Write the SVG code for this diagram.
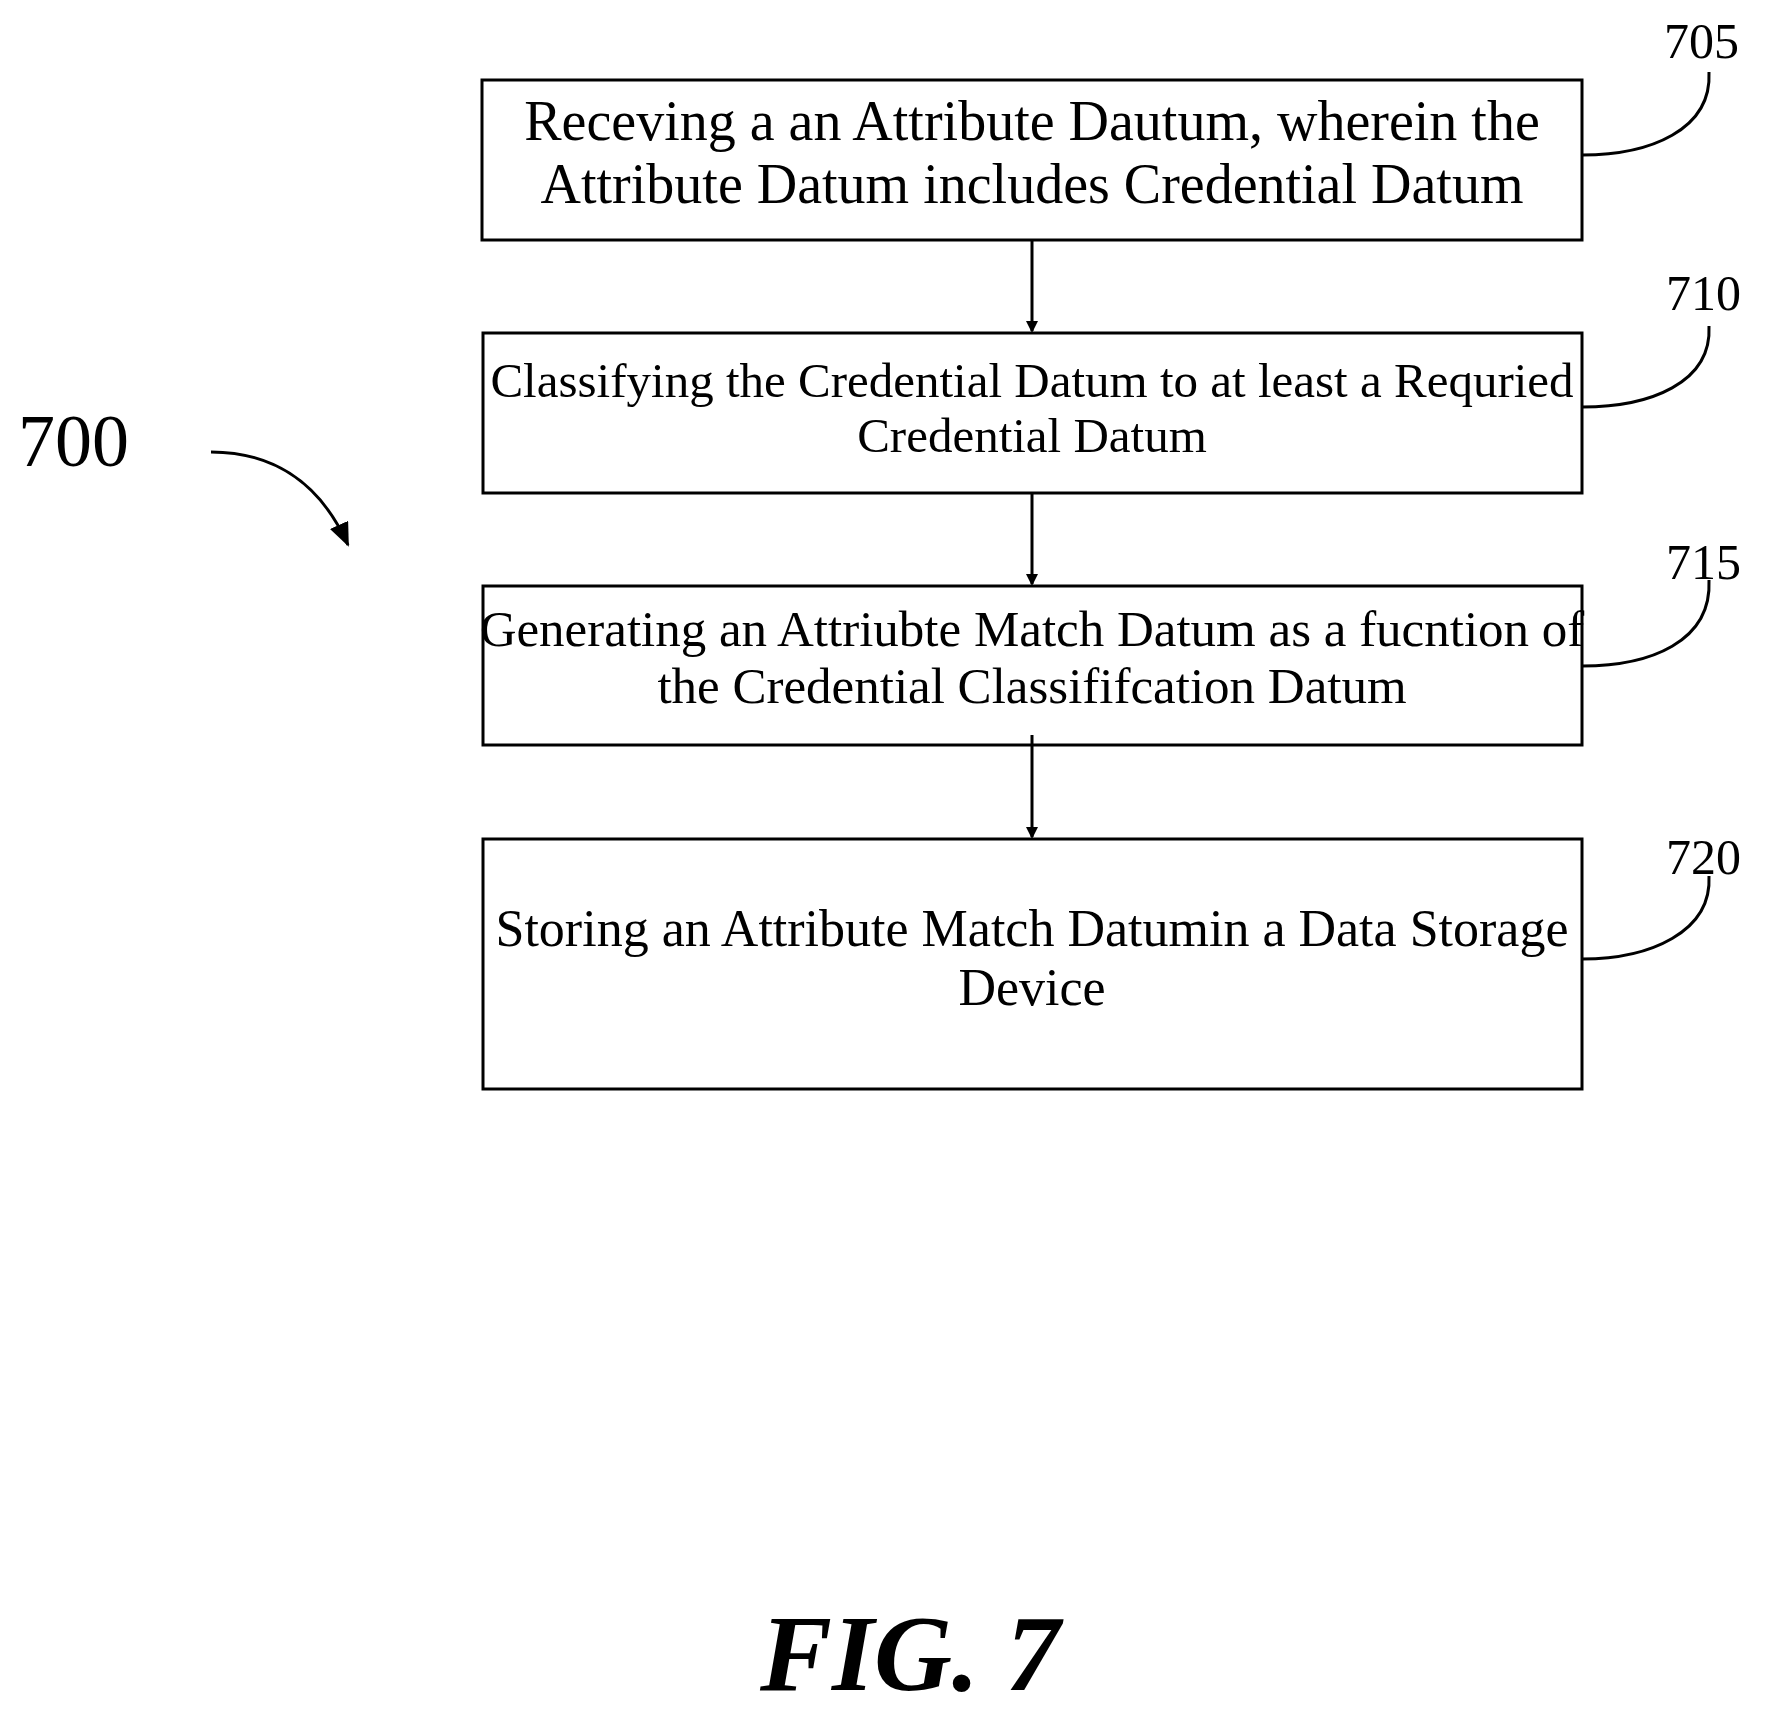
<svg xmlns="http://www.w3.org/2000/svg" width="1768" height="1717" viewBox="0 0 1768 1717">
<style>
.b{fill:#fff;stroke:#000;stroke-width:3}
.t{font-family:"Liberation Serif",serif;font-size:48px;text-anchor:middle}
.l{font-family:"Liberation Serif",serif;font-size:50px}
.c{fill:none;stroke:#000;stroke-width:3}
</style>
<defs><marker id="a" markerWidth="12" markerHeight="12" refX="10" refY="6" orient="auto" markerUnits="userSpaceOnUse"><path d="M0,0 L12,6 L0,12 Z"/></marker>
<marker id="a2" markerWidth="24" markerHeight="20" refX="22" refY="10" orient="auto" markerUnits="userSpaceOnUse"><path d="M0,0 L24,10 L0,20 Z"/></marker></defs>
<rect width="1768" height="1717" fill="#fff"/>
<g id="n705"><rect class="b" x="482" y="80" width="1100" height="160"/>
<text class="t" x="1032" y="140" style="font-size:56px">Receving a an Attribute Dautum, wherein the</text>
<text class="t" x="1032" y="203" style="font-size:56px">Attribute Datum includes Credential Datum</text></g>
<g id="n710"><rect class="b" x="483" y="333" width="1099" height="160"/>
<text class="t" x="1032" y="397" style="font-size:49px">Classifying the Credential Datum to at least a Requried</text>
<text class="t" x="1032" y="452" style="font-size:49px">Credential Datum</text></g>
<g id="n715"><rect class="b" x="483" y="586" width="1099" height="159"/>
<text class="t" x="1032" y="646" style="font-size:51px">Generating an Attriubte Match Datum as a fucntion of</text>
<text class="t" x="1032" y="703" style="font-size:51px">the Credential Classififcation Datum</text></g>
<g id="n720"><rect class="b" x="483" y="839" width="1099" height="250"/>
<text class="t" x="1032" y="946" style="font-size:52px">Storing an Attribute Match Datumin a Data Storage</text>
<text class="t" x="1032" y="1005" style="font-size:52px">Device</text></g>
<g id="connectors">
<line class="c" x1="1032" y1="240" x2="1032" y2="331" marker-end="url(#a)"/>
<line class="c" x1="1032" y1="493" x2="1032" y2="584" marker-end="url(#a)"/>
<line class="c" x1="1032" y1="735" x2="1032" y2="837" marker-end="url(#a)"/>
<path class="c" d="M1582,155 C1650,155 1712,130 1709,72"/>
<path class="c" d="M1582,407 C1650,407 1712,383 1709,326"/>
<path class="c" d="M1582,666 C1650,666 1712,642 1709,580"/>
<path class="c" d="M1582,959 C1650,959 1712,932 1709,876"/>
<path class="c" d="M211,452 C268,452 318,478 348,545" marker-end="url(#a2)"/>
</g>
<text class="l" x="1664" y="58">705</text>
<text class="l" x="1666" y="310">710</text>
<text class="l" x="1666" y="579">715</text>
<text class="l" x="1666" y="874">720</text>
<text class="l" x="18" y="466" style="font-size:74px">700</text>
<text x="910" y="1690" style="font-family:'Liberation Serif',serif;font-size:108px;font-weight:bold;font-style:italic;text-anchor:middle">FIG. 7</text>
</svg>
